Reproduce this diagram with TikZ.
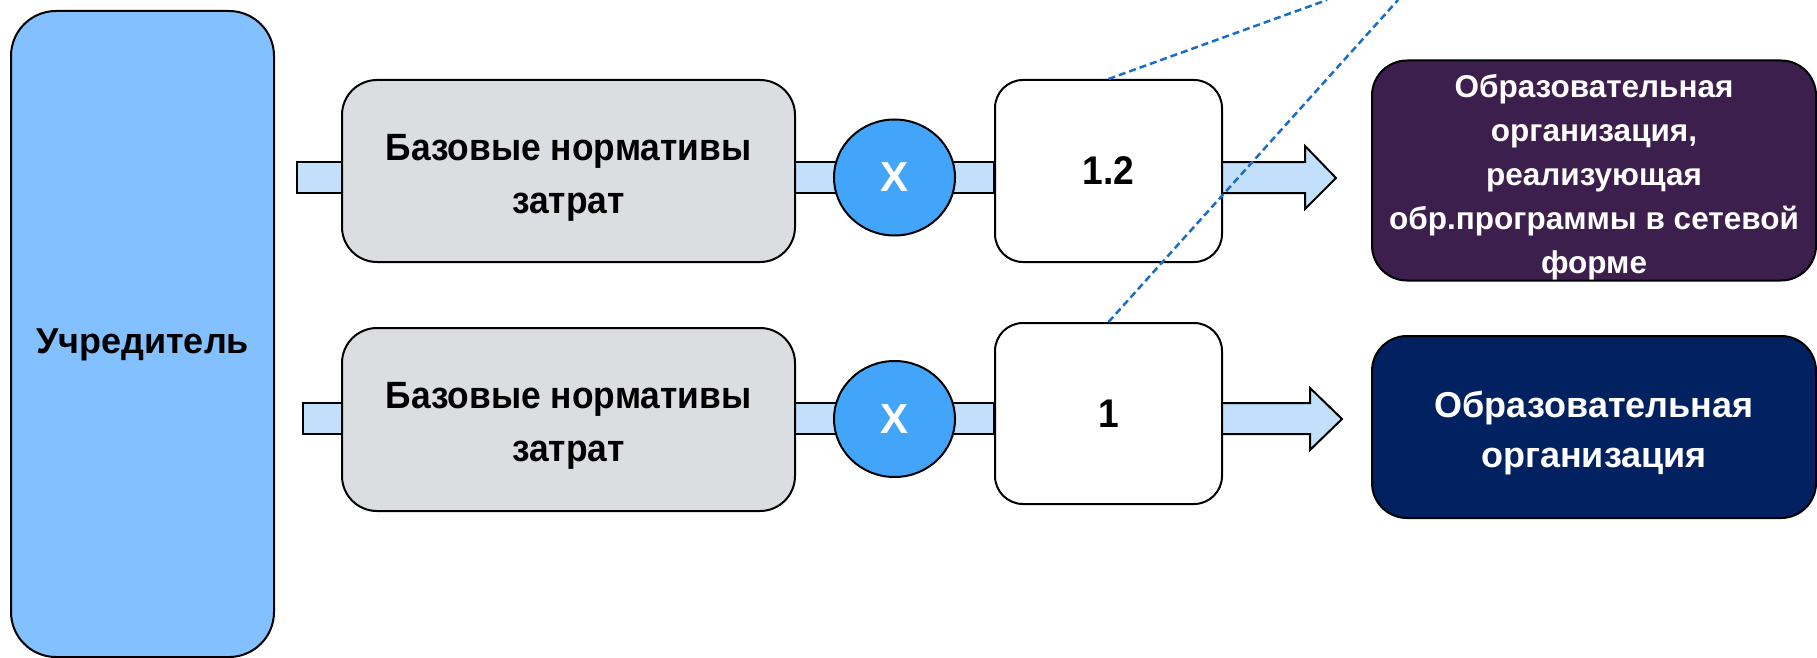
\documentclass[tikz,border=0pt]{standalone}
\usepackage{fontspec}
\setmainfont{Liberation Sans}
\newfontfamily\narrowsans{Liberation Sans}[FakeStretch=0.93]
\usetikzlibrary{shapes.geometric,calc,backgrounds}
\definecolor{founderblue}{RGB}{130,192,255}
\definecolor{basegray}{RGB}{220,221,224}
\definecolor{shaftblue}{RGB}{194,224,252}
\definecolor{circblue}{RGB}{66,165,250}
\definecolor{orgpurple}{RGB}{61,31,77}
\definecolor{orgnavy}{RGB}{2,33,96}
\definecolor{dashblue}{RGB}{25,110,200}
\newcommand{\shiftdown}[2]{\raisebox{-#1}[\height][\depth]{\begin{tabular}{@{}c@{}}#2\end{tabular}}}
\tikzset{
  boxline/.style={draw=black, line width=2pt},
  founderbox/.style={boxline, fill=founderblue, rounded corners=45pt, minimum width=263pt, minimum height=646pt, inner sep=0pt, font=\fontsize{36}{44}\selectfont\bfseries},
  basebox/.style={boxline, fill=basegray, rounded corners=35pt, minimum width=453pt, inner sep=0pt, align=center, font=\narrowsans\fontsize{38}{53}\selectfont\bfseries},
  multbox/.style={boxline, fill=circblue, ellipse, minimum width=121pt, minimum height=116pt, inner sep=0pt, text=white, font=\fontsize{42}{48}\selectfont\bfseries},
  coefbox/.style={boxline, fill=white, rounded corners=28pt, minimum width=227pt, inner sep=0pt, font=\narrowsans\fontsize{40}{44}\selectfont\bfseries},
  orgbox/.style={boxline, rounded corners=35pt, minimum width=444pt, inner sep=0pt, align=center, text=white},
  shaft/.style={boxline, fill=shaftblue},
  linkline/.style={draw=dashblue, line width=2.5pt, dash pattern=on 7pt off 4pt}
}
\begin{document}
\begin{tikzpicture}[x=1pt,y=1pt]
\useasboundingbox (0,0) rectangle (1817,-658);
\node[founderbox] (u) at (142.5,-334) {\raisebox{-11pt}[\height][\depth]{Учредитель}};
\node[basebox, minimum height=182pt] (b1) at (568.5,-171) {\shiftdown{5pt}{Базовые нормативы\\затрат}};
\node[basebox, minimum height=183pt] (b2) at (568.5,-419.5) {\shiftdown{5pt}{Базовые нормативы\\затрат}};
\node[multbox] (m1) at (894.5,-177.5) {X};
\node[multbox] (m2) at (894.5,-419) {X};
\node[coefbox, minimum height=182pt] (w1) at (1108.5,-171) {1.2};
\node[coefbox, minimum height=181pt] (w2) at (1108.5,-413.5) {1};
\node[orgbox, fill=orgpurple, minimum height=213pt, font=\fontsize{31.5}{44}\selectfont\bfseries] (o1) at (1594,-170.5) {\shiftdown{6pt}{Образовательная\\организация,\\реализующая\\обр.программы в сетевой\\форме}};
\node[orgbox, fill=orgnavy, minimum height=182pt, font=\fontsize{36}{50}\selectfont\bfseries] (o2) at (1594,-427) {\shiftdown{5pt}{Образовательная\\организация}};
\begin{scope}[on background layer]
  \draw[shaft] ($(b1.west)+(-44,9)$) rectangle ($(w1.west)+(0,-22)$);
  \draw[shaft] ($(b2.west)+(-38,16.5)$) rectangle ($(w2.west)+(0,-20.5)$);
  \draw[shaft] ($(w1.east)+(-20,9)$) -- ($(w1.east)+(82,9)$) -- ($(w1.east)+(82,25)$) -- ($(w1.east)+(113,-7)$) -- ($(w1.east)+(82,-38)$) -- ($(w1.east)+(82,-22)$) -- ($(w1.east)+(-20,-22)$) -- cycle;
  \draw[shaft] ($(w2.east)+(-20,10.5)$) -- ($(w2.east)+(87,10.5)$) -- ($(w2.east)+(87,25.5)$) -- ($(w2.east)+(119,-5.5)$) -- ($(w2.east)+(87,-36.5)$) -- ($(w2.east)+(87,-20.5)$) -- ($(w2.east)+(-20,-20.5)$) -- cycle;
\end{scope}
\coordinate (e1) at (1327,0);
\coordinate (e2) at (1398,0);
\draw[linkline] (w1.north) -- (e1);
\draw[linkline] (w2.north) -- (e2);
\end{tikzpicture}
\end{document}
